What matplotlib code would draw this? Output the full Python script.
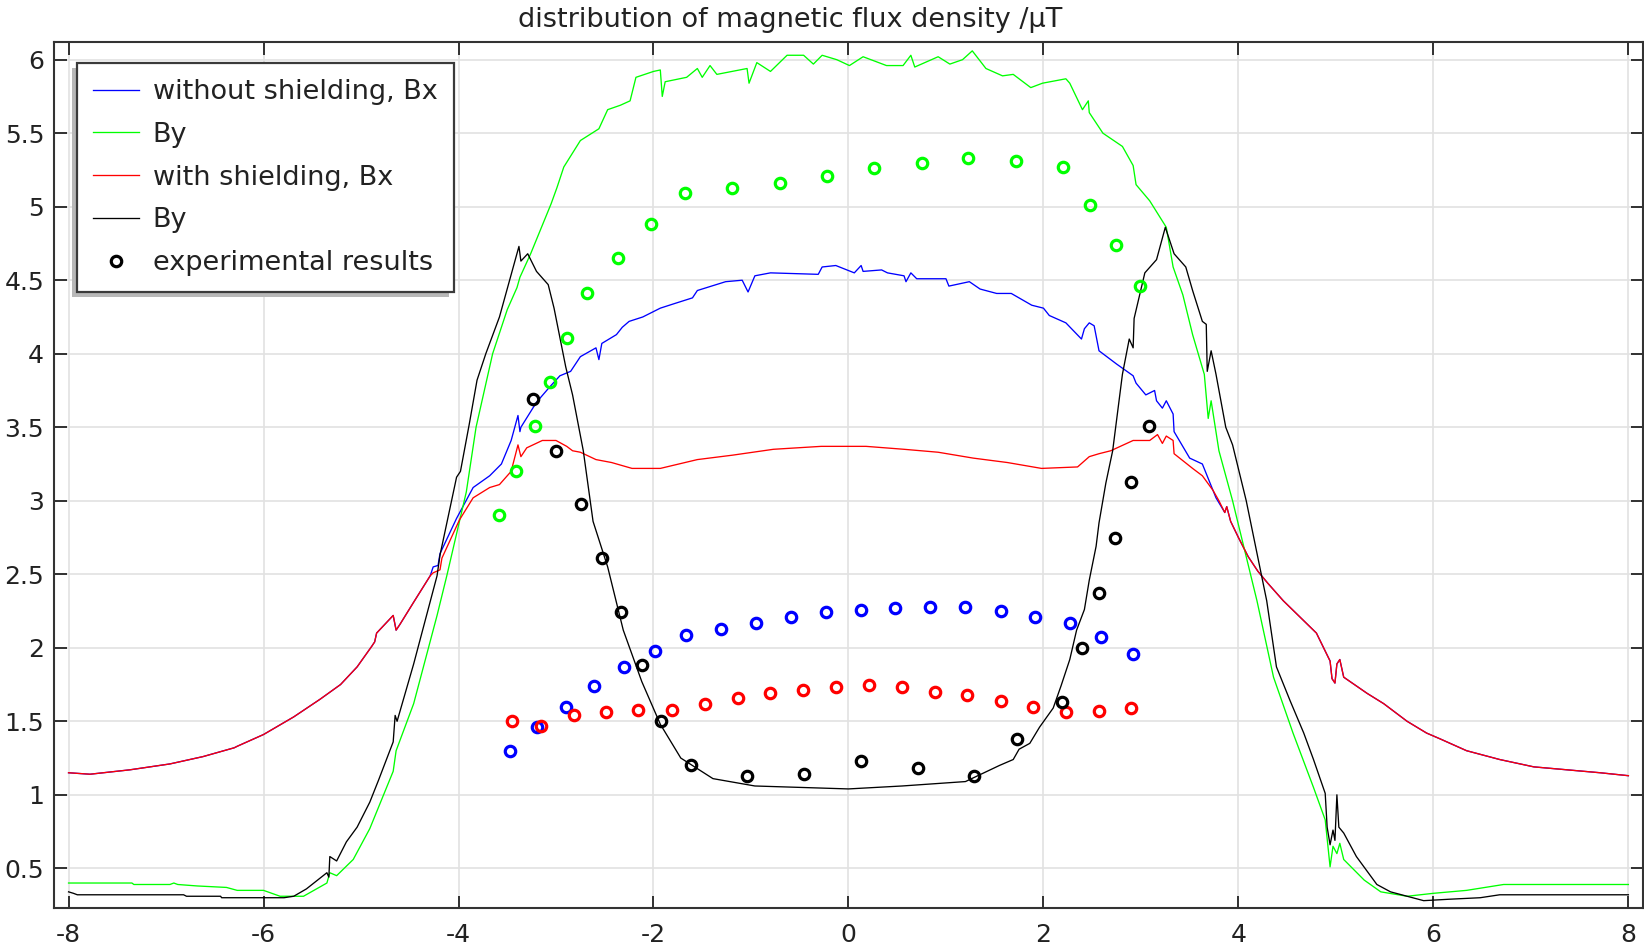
import matplotlib
matplotlib.use('Agg')
import matplotlib.pyplot as plt
import numpy as np
from matplotlib.lines import Line2D
from matplotlib.patches import Rectangle
from matplotlib.transforms import IdentityTransform

# simulated curves as (x, B) pairs
# Bx outside the shield region is the same with and without shielding
bx_tail_left = [(-8.0, 1.15), (-7.78, 1.14), (-7.37, 1.17), (-6.96, 1.21), (-6.62, 1.26),
                (-6.30, 1.32), (-6.27, 1.33), (-6.0, 1.41), (-5.69, 1.53), (-5.42, 1.65),
                (-5.21, 1.75), (-5.04, 1.87), (-4.89, 2.01), (-4.86, 2.04), (-4.84, 2.10),
                (-4.67, 2.22), (-4.64, 2.12), (-4.60, 2.16), (-4.46, 2.31), (-4.29, 2.49)]

bx_tail_right = [(3.86, 2.92), (3.88, 2.96), (3.92, 2.86), (4.0, 2.75), (4.1, 2.62),
                 (4.2, 2.52), (4.3, 2.44), (4.46, 2.32), (4.80, 2.10), (4.94, 1.91),
                 (4.96, 1.79), (4.99, 1.76), (5.01, 1.89), (5.04, 1.92), (5.08, 1.80),
                 (5.32, 1.69), (5.49, 1.62), (5.73, 1.50), (5.93, 1.42), (6.07, 1.38),
                 (6.34, 1.30), (6.68, 1.24), (7.03, 1.19), (7.37, 1.17), (7.71, 1.15), (8.0, 1.13)]

bx_noshield_mid = [(-4.26, 2.55), (-4.21, 2.56), (-4.19, 2.64), (-4.02, 2.88), (-3.85, 3.09),
                   (-3.68, 3.17), (-3.56, 3.25), (-3.46, 3.41), (-3.39, 3.58), (-3.37, 3.47),
                   (-3.36, 3.50), (-3.20, 3.67), (-3.07, 3.77), (-2.96, 3.85), (-2.85, 3.88),
                   (-2.75, 3.98), (-2.59, 4.04), (-2.56, 3.96), (-2.53, 4.07), (-2.38, 4.13),
                   (-2.32, 4.18), (-2.25, 4.22), (-2.11, 4.25), (-1.93, 4.31), (-1.79, 4.34),
                   (-1.60, 4.38), (-1.55, 4.43), (-1.26, 4.49), (-1.09, 4.50), (-1.03, 4.42),
                   (-0.96, 4.53), (-0.80, 4.55), (-0.31, 4.54), (-0.27, 4.59), (-0.13, 4.60),
                   (0.06, 4.55), (0.13, 4.60), (0.15, 4.56), (0.34, 4.57), (0.40, 4.55),
                   (0.57, 4.53), (0.59, 4.49), (0.64, 4.55), (0.70, 4.51), (1.00, 4.51),
                   (1.03, 4.46), (1.24, 4.49), (1.35, 4.44), (1.52, 4.41), (1.67, 4.41),
                   (1.88, 4.33), (2.00, 4.31), (2.06, 4.26), (2.23, 4.21), (2.39, 4.10),
                   (2.42, 4.17), (2.47, 4.21), (2.52, 4.19), (2.57, 4.02), (2.75, 3.93),
                   (2.92, 3.85), (2.95, 3.80), (3.05, 3.72), (3.14, 3.75), (3.16, 3.68),
                   (3.22, 3.63), (3.26, 3.68), (3.33, 3.59), (3.34, 3.47), (3.50, 3.29),
                   (3.63, 3.25), (3.77, 3.02)]

bx_shield_mid = [(-4.26, 2.51), (-4.19, 2.53), (-4.17, 2.61), (-3.99, 2.87), (-3.85, 3.02),
                 (-3.68, 3.09), (-3.58, 3.11), (-3.46, 3.20), (-3.39, 3.38), (-3.36, 3.30),
                 (-3.30, 3.36), (-3.14, 3.41), (-3.00, 3.41), (-2.89, 3.37), (-2.83, 3.34),
                 (-2.75, 3.33), (-2.59, 3.28), (-2.43, 3.26), (-2.22, 3.22), (-1.93, 3.22),
                 (-1.55, 3.28), (-1.19, 3.31), (-0.77, 3.35), (-0.28, 3.37), (0.18, 3.37),
                 (0.57, 3.35), (0.92, 3.33), (1.28, 3.29), (1.63, 3.26), (1.98, 3.22),
                 (2.35, 3.23), (2.47, 3.30), (2.57, 3.32), (2.69, 3.34), (2.92, 3.41),
                 (3.09, 3.41), (3.17, 3.45), (3.22, 3.39), (3.26, 3.44), (3.33, 3.41),
                 (3.34, 3.32), (3.53, 3.22), (3.63, 3.17), (3.74, 3.07), (3.80, 3.00)]

by_noshield = [(-8.0, 0.40), (-7.35, 0.40), (-7.33, 0.39), (-6.96, 0.39), (-6.92, 0.40),
               (-6.88, 0.39), (-6.68, 0.38), (-6.38, 0.37), (-6.27, 0.35), (-6.0, 0.35),
               (-5.83, 0.31), (-5.59, 0.31), (-5.35, 0.40), (-5.32, 0.47), (-5.25, 0.45),
               (-5.08, 0.56), (-4.91, 0.77), (-4.67, 1.16), (-4.64, 1.30), (-4.46, 1.62),
               (-4.22, 2.22), (-4.12, 2.49), (-3.92, 3.06), (-3.82, 3.50), (-3.65, 4.00),
               (-3.50, 4.30), (-3.40, 4.45), (-3.37, 4.52), (-3.26, 4.68), (-3.05, 5.02),
               (-2.99, 5.13), (-2.92, 5.27), (-2.75, 5.45), (-2.56, 5.53), (-2.47, 5.66),
               (-2.34, 5.69), (-2.24, 5.72), (-2.18, 5.88), (-2.0, 5.92), (-1.93, 5.93),
               (-1.91, 5.75), (-1.88, 5.85), (-1.66, 5.88), (-1.55, 5.94), (-1.50, 5.88),
               (-1.42, 5.96), (-1.35, 5.90), (-1.04, 5.94), (-1.02, 5.84), (-0.94, 5.98),
               (-0.80, 5.92), (-0.63, 6.03), (-0.46, 6.03), (-0.36, 5.97), (-0.27, 6.03),
               (-0.12, 6.00), (0.01, 5.96), (0.15, 6.02), (0.39, 5.96), (0.56, 5.96),
               (0.64, 6.03), (0.68, 5.95), (0.92, 6.02), (1.04, 5.97), (1.17, 6.00),
               (1.27, 6.06), (1.41, 5.94), (1.58, 5.89), (1.69, 5.90), (1.77, 5.86),
               (1.87, 5.81), (1.99, 5.84), (2.23, 5.87), (2.27, 5.84), (2.40, 5.66),
               (2.46, 5.72), (2.47, 5.64), (2.61, 5.50), (2.81, 5.41), (2.92, 5.28),
               (2.95, 5.15), (3.09, 5.04), (3.26, 4.86), (3.33, 4.59), (3.43, 4.40),
               (3.53, 4.13), (3.65, 3.86), (3.69, 3.56), (3.72, 3.68), (3.80, 3.34),
               (3.94, 3.00), (4.19, 2.32), (4.36, 1.80), (4.56, 1.42), (4.77, 1.05),
               (4.89, 0.83), (4.94, 0.51), (4.97, 0.65), (5.01, 0.60), (5.04, 0.67),
               (5.08, 0.56), (5.29, 0.42), (5.46, 0.34), (5.73, 0.31), (6.0, 0.33),
               (6.34, 0.35), (6.72, 0.39), (7.03, 0.39), (7.26, 0.39), (8.0, 0.39)]

by_shield = [(-8.0, 0.34), (-7.95, 0.33), (-7.91, 0.32), (-6.82, 0.32), (-6.79, 0.31),
             (-6.44, 0.31), (-6.43, 0.30), (-5.79, 0.30), (-5.69, 0.31), (-5.56, 0.36),
             (-5.35, 0.47), (-5.33, 0.44), (-5.32, 0.58), (-5.25, 0.55), (-5.15, 0.68),
             (-5.04, 0.78), (-4.91, 0.95), (-4.82, 1.10), (-4.67, 1.36), (-4.65, 1.54),
             (-4.63, 1.50), (-4.46, 1.89), (-4.22, 2.49), (-4.19, 2.63), (-4.02, 3.16),
             (-3.98, 3.20), (-3.89, 3.52), (-3.81, 3.82), (-3.72, 4.00), (-3.58, 4.25),
             (-3.38, 4.73), (-3.36, 4.63), (-3.29, 4.68), (-3.20, 4.56), (-3.08, 4.47),
             (-3.02, 4.31), (-2.90, 3.91), (-2.83, 3.72), (-2.72, 3.34), (-2.62, 2.86),
             (-2.47, 2.55), (-2.31, 2.12), (-2.12, 1.77), (-1.93, 1.48), (-1.72, 1.25),
             (-1.39, 1.11), (-0.96, 1.06), (0.0, 1.04), (0.55, 1.06), (1.2, 1.09),
             (1.55, 1.20), (1.69, 1.24), (1.75, 1.31), (1.86, 1.35), (1.96, 1.46),
             (2.10, 1.59), (2.18, 1.74), (2.27, 1.92), (2.34, 2.12), (2.42, 2.26),
             (2.47, 2.46), (2.54, 2.69), (2.57, 2.85), (2.64, 3.12), (2.71, 3.34),
             (2.81, 3.86), (2.88, 4.10), (2.92, 4.04), (2.93, 4.24), (3.04, 4.55),
             (3.16, 4.64), (3.25, 4.86), (3.34, 4.68), (3.46, 4.59), (3.53, 4.43),
             (3.63, 4.22), (3.67, 4.20), (3.68, 3.88), (3.72, 4.02), (3.77, 3.86),
             (3.87, 3.50), (3.94, 3.38), (4.08, 3.00), (4.29, 2.32), (4.39, 1.87),
             (4.53, 1.64), (4.67, 1.42), (4.77, 1.24), (4.89, 1.01), (4.91, 0.78),
             (4.94, 0.66), (4.97, 0.76), (4.99, 0.69), (5.01, 1.00), (5.03, 0.78),
             (5.08, 0.74), (5.21, 0.58), (5.42, 0.39), (5.56, 0.34), (5.73, 0.31),
             (5.90, 0.28), (6.17, 0.29), (6.48, 0.30), (6.68, 0.32), (8.0, 0.32)]

# measured points
exp_bx_noshield = [(-3.47, 1.30), (-3.19, 1.46), (-2.90, 1.60), (-2.61, 1.74), (-2.30, 1.87),
                   (-1.98, 1.98), (-1.67, 2.09), (-1.31, 2.13), (-0.95, 2.17), (-0.59, 2.21),
                   (-0.23, 2.24), (0.13, 2.26), (0.48, 2.27), (0.84, 2.28), (1.20, 2.28),
                   (1.56, 2.25), (1.91, 2.21), (2.27, 2.17), (2.59, 2.07), (2.92, 1.96)]
exp_by_noshield = [(-3.58, 2.90), (-3.41, 3.20), (-3.22, 3.51), (-3.06, 3.81), (-2.89, 4.11),
                   (-2.68, 4.41), (-2.36, 4.65), (-2.03, 4.88), (-1.68, 5.09), (-1.19, 5.13),
                   (-0.70, 5.16), (-0.22, 5.21), (0.26, 5.26), (0.75, 5.30), (1.23, 5.33),
                   (1.72, 5.31), (2.20, 5.27), (2.48, 5.01), (2.74, 4.74), (2.99, 4.46)]
exp_bx_shield = [(-3.45, 1.50), (-3.15, 1.47), (-2.82, 1.54), (-2.49, 1.56), (-2.16, 1.58),
                 (-1.81, 1.58), (-1.47, 1.62), (-1.13, 1.66), (-0.80, 1.69), (-0.47, 1.71),
                 (-0.13, 1.73), (0.21, 1.75), (0.55, 1.73), (0.89, 1.70), (1.22, 1.68),
                 (1.56, 1.64), (1.89, 1.60), (2.23, 1.56), (2.57, 1.57), (2.90, 1.59)]
exp_by_shield = [(-3.24, 3.69), (-3.00, 3.34), (-2.74, 2.98), (-2.53, 2.61), (-2.33, 2.24),
                 (-2.12, 1.88), (-1.92, 1.50), (-1.62, 1.20), (-1.04, 1.13), (-0.46, 1.14),
                 (0.13, 1.23), (0.71, 1.18), (1.29, 1.13), (1.73, 1.38), (2.19, 1.63),
                 (2.40, 2.00), (2.57, 2.37), (2.73, 2.75), (2.90, 3.13), (3.08, 3.51)]

labels = ['without shielding, Bx', 'By', 'with shielding, Bx', 'By', 'experimental results']
colors = ['#0000ff', '#00ff00', '#ff0000', '#000000']


def xy(pts):
    a = np.array(pts)
    return a[:, 0], a[:, 1]


plt.rcParams['font.family'] = 'DejaVu Sans'
plt.rcParams['font.size'] = 18
plt.rcParams['axes.unicode_minus'] = False

fig = plt.figure(figsize=(16.44, 9.51), dpi=100)
ax = fig.add_axes([0.0328, 0.0452, 0.9666, 0.9106])

curves = [bx_tail_left + bx_noshield_mid + bx_tail_right,
          by_noshield,
          bx_tail_left + bx_shield_mid + bx_tail_right,
          by_shield]
handles = []
for pts, c, lab in zip(curves, colors, labels[:4]):
    x, y = xy(pts)
    h, = ax.plot(x, y, color=c, lw=0.95, label=lab, zorder=3)
    handles.append(h)

for pts, c in zip([exp_bx_noshield, exp_by_noshield, exp_bx_shield, exp_by_shield], colors):
    x, y = xy(pts)
    ax.plot(x, y, ls='none', marker='o', ms=7.5, mfc='none', mec=c, mew=2.3, zorder=4)

handles.append(Line2D([], [], ls='none', marker='o', ms=7.5, mfc='none', mec='black', mew=2.3))

ax.set_xlim(-8.15, 8.15)
ax.set_ylim(0.23, 6.12)
ax.set_xticks(np.arange(-8, 9, 2))
ax.set_yticks(np.arange(0.5, 6.01, 0.5))
ax.set_yticklabels(['0.5', '1', '1.5', '2', '2.5', '3', '3.5', '4', '4.5', '5', '5.5', '6'])
ax.tick_params(direction='in', length=9, width=1.3, color='#222222', labelcolor='#222222',
               top=True, right=True, pad=7)
ax.tick_params(axis='x', pad=11)
ax.tick_params(axis='y', labelright=False)
ax.grid(True, color='#e2e2e2', lw=1.2)
ax.set_axisbelow(True)
for sp in ax.spines.values():
    sp.set_color('#333333')
    sp.set_linewidth(1.5)

ax.set_title('distribution of magnetic flux density /\u00b5T', fontsize=19.5, color='#222222',
             pad=11, x=0.463)

leg = ax.legend(handles, labels, loc='upper left', bbox_to_anchor=(0.0145, 0.976),
                borderaxespad=0, fancybox=False, framealpha=1, edgecolor='#3a3a3a',
                handlelength=1.7, handletextpad=0.5, labelspacing=0.62, borderpad=0.6,
                fontsize=19.5)
leg.get_frame().set_linewidth(1.6)
for t in leg.get_texts():
    t.set_color('#222222')

# grey shadow to the lower left of the legend box
fig.canvas.draw()
bb = leg.get_window_extent()
shadow = Rectangle((bb.x0 - 5, bb.y0 - 5), bb.width, bb.height, transform=IdentityTransform(),
                   facecolor='#b8b8b8', edgecolor='none', zorder=leg.get_zorder() - 0.1,
                   clip_on=False)
ax.add_artist(shadow)

fig.savefig('out.png', dpi=100)
